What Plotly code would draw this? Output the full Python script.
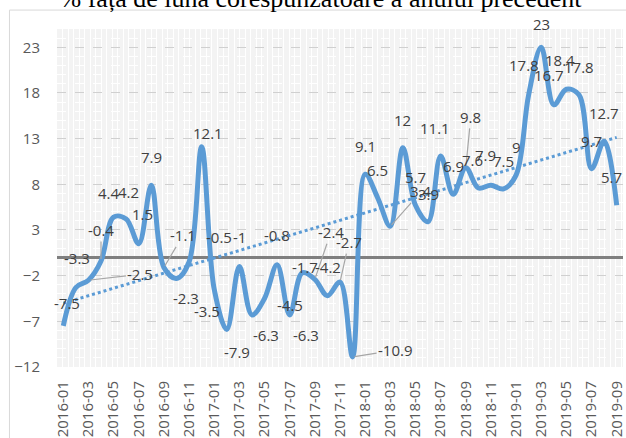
import numpy as np
import plotly.graph_objects as go

# months 2016-01 .. 2019-09
months = [f"{y}-{m:02d}" for y in range(2016, 2020) for m in range(1, 13)][:45]

# % faţă de luna corespunzătoare a anului precedent
values = [
    -7.5, -3.3, -2.5, -0.4, 4.4, 4.2, 1.5, 7.9, -1.1, -2.3, -0.5, 12.1,
    -3.5, -7.9, -1, -6.3, -4.5, -0.8, -6.3, -1.7, -2.4, -4.2, -2.7, -10.9,
    9.1, 6.5, 3.4, 12, 5.7, 3.9, 11.1, 6.9, 9.8, 7.6, 7.9, 7.5,
    9, 17.8, 23, 16.7, 18.4, 17.8, 9.7, 12.7, 5.7,
]

y_ticks = [-12, -7, -2, 3, 8, 13, 18, 23]

BLUE = "#5b9bd5"
LABEL_FONT = dict(family="Open Sans", size=15, color="#404040")

# label placement (pixel offset from point); most labels sit above
default_off = (0, -28)
label_off = {
    0: (4, -23), 1: (1, -30), 4: (-5, -24), 5: (2, -27), 6: (4, -30),
    9: (10, 20), 10: (30, -25), 11: (6, -14), 12: (-7, 22), 13: (10, 22),
    14: (0, -30), 15: (14, 20), 16: (25, 7), 17: (0, -30), 18: (16, 20),
    19: (3, -6), 21: (1, -29), 30: (-6, -28), 33: (-6, -28), 34: (-5, -30),
    37: (-5, -30), 38: (0, -23), 39: (-5, -30), 40: (-6, -29), 44: (-5, -28),
}
# labels dragged away, joined by a leader line
leader_off = {
    2: (52, -6), 3: (0, -31), 8: (19, -32), 20: (16, -47), 22: (9, -40),
    23: (43, -7), 26: (31, -35), 32: (5, -51),
}

x_idx = list(range(len(values)))
slope, icept = np.polyfit(x_idx, values, 1)
trend = [slope * i + icept for i in x_idx]

fig = go.Figure()

fig.add_trace(go.Scatter(
    x=x_idx, y=trend, mode="lines",
    line=dict(color=BLUE, width=3, dash="dot"),
    hoverinfo="skip",
))

fig.add_trace(go.Scatter(
    x=x_idx, y=values, mode="lines",
    line=dict(color=BLUE, width=5, shape="spline", smoothing=1.0),
))

annotations = []
for i, v in enumerate(values):
    txt = f"{v:g}"
    if i in leader_off:
        ax, ay = leader_off[i]
        annotations.append(dict(
            x=i, y=v, text=txt, showarrow=True, arrowhead=0,
            arrowcolor="#a6a6a6", arrowwidth=1.2, ax=ax, ay=ay,
            font=LABEL_FONT, standoff=2,
        ))
    else:
        dx, dy = label_off.get(i, default_off)
        annotations.append(dict(
            x=i, y=v, text=txt, showarrow=False,
            xshift=dx, yshift=-dy, font=LABEL_FONT,
        ))

fig.update_layout(
    width=626, height=438,
    margin=dict(l=57, r=0, t=29, b=71),
    paper_bgcolor="white",
    plot_bgcolor="#f3f3f3",
    showlegend=False,
    title=dict(
        text="% față de luna corespunzătoare a anului precedent",
        font=dict(family="Liberation Serif", size=26, color="black"),
        x=0.512, xanchor="center", y=0.985, yanchor="bottom",
    ),
    annotations=annotations,
    shapes=[dict(
        type="rect", xref="paper", yref="paper",
        x0=-0.084, x1=1.2, y0=-0.5, y1=1.056,
        line=dict(color="#d9d9d9", width=1), layer="below",
    )],
)

fig.update_xaxes(
    range=[-0.5, 44.5],
    tickvals=x_idx[::2], ticktext=months[::2],
    tickangle=-90, ticklabelstandoff=10, ticklabeloverflow="allow",
    tickfont=dict(family="Open Sans", size=15, color="#595959"),
    showgrid=False, zeroline=False, showline=False,
    minor=dict(dtick=0.44, tick0=-0.5, showgrid=True,
               gridcolor="white", gridwidth=1),
)

fig.update_yaxes(
    range=[-12, 25],
    tickvals=y_ticks, ticklabelstandoff=16,
    tickfont=dict(family="Open Sans", size=15, color="#595959"),
    showgrid=True, gridcolor="#d0d0d0", griddash="dash", gridwidth=1,
    zeroline=True, zerolinecolor="#7f7f7f", zerolinewidth=3,
    minor=dict(dtick=1, tick0=-12, showgrid=True,
               gridcolor="white", gridwidth=1),
)

# page margin off so the figure sits at the window's corner
fig.write_html(
    "out.html",
    config={"displayModeBar": False},
    post_script="document.body.style.margin='0';",
)
